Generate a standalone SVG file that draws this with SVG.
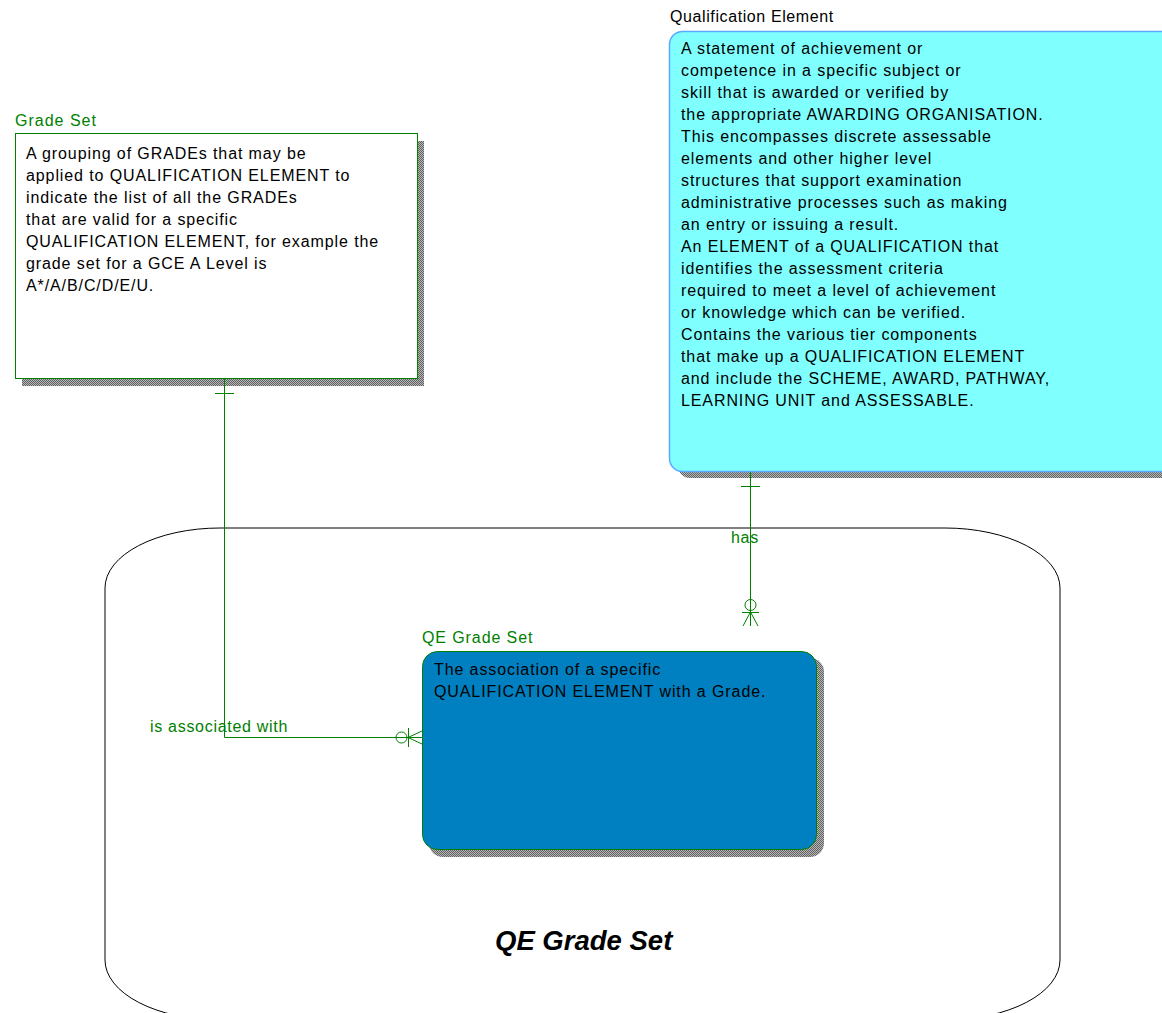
<svg xmlns="http://www.w3.org/2000/svg" width="1162" height="1013" viewBox="0 0 1162 1013">
<defs>
<pattern id="dither" width="2" height="2" patternUnits="userSpaceOnUse">
<rect width="2" height="2" fill="#b8b8b8"/>
<rect width="1" height="1" fill="#606060"/>
<rect x="1" y="1" width="1" height="1" fill="#606060"/>
</pattern>
</defs>
<style>
.t{font-family:"Liberation Sans",Arial,sans-serif;font-size:16px;letter-spacing:0.9px;fill:#000}
.title{font-family:"Liberation Sans",Arial,sans-serif;font-size:16px;letter-spacing:0.6px}
.g{fill:#008000}
.lbl{font-family:"Liberation Sans",Arial,sans-serif;font-size:16px;letter-spacing:0.7px;fill:#008000}
.rel{fill:none;stroke:#008000;stroke-width:1}
.shadow{fill:url(#dither)}
</style>
<rect width="1162" height="1013" fill="#fff"/>

<g id="container">
<rect x="105" y="528" width="955" height="492" rx="115" ry="60" fill="none" stroke="#000" stroke-width="1"/>
<text x="495" y="950" font-family="'Liberation Sans',Arial,sans-serif" font-size="27.5" font-weight="bold" font-style="italic" fill="#000">QE Grade Set</text>
</g>

<g id="grade-set">
<rect class="shadow" x="22" y="141" width="402" height="245"/>
<rect x="15.5" y="133.5" width="402" height="245" fill="#fff" stroke="#008000"/>
<text class="title g" x="15" y="126" style="letter-spacing:1px">Grade Set</text>
<text class="t" x="26" y="159">A grouping of GRADEs that may be</text>
<text class="t" x="26" y="181">applied to QUALIFICATION ELEMENT to</text>
<text class="t" x="26" y="203">indicate the list of all the GRADEs</text>
<text class="t" x="26" y="225">that are valid for a specific</text>
<text class="t" x="26" y="247">QUALIFICATION ELEMENT, for example the</text>
<text class="t" x="26" y="269">grade set for a GCE A Level is</text>
<text class="t" x="26" y="291">A*/A/B/C/D/E/U.</text>
</g>

<g id="qualification-element">
<rect class="shadow" x="678" y="40" width="500" height="438" rx="12"/>
<rect x="669.5" y="31.5" width="510" height="440" rx="13" fill="#80ffff" stroke="#5aaaff" stroke-width="1.5"/>
<text class="title" x="670" y="22" fill="#000">Qualification Element</text>
<text class="t" x="681" y="54">A statement of achievement or</text>
<text class="t" x="681" y="76">competence in a specific subject or</text>
<text class="t" x="681" y="98">skill that is awarded or verified by</text>
<text class="t" x="681" y="120">the appropriate AWARDING ORGANISATION.</text>
<text class="t" x="681" y="142">This encompasses discrete assessable</text>
<text class="t" x="681" y="164">elements and other higher level</text>
<text class="t" x="681" y="186">structures that support examination</text>
<text class="t" x="681" y="208">administrative processes such as making</text>
<text class="t" x="681" y="230">an entry or issuing a result.</text>
<text class="t" x="681" y="252">An ELEMENT of a QUALIFICATION that</text>
<text class="t" x="681" y="274">identifies the assessment criteria</text>
<text class="t" x="681" y="296">required to meet a level of achievement</text>
<text class="t" x="681" y="318">or knowledge which can be verified.</text>
<text class="t" x="681" y="340">Contains the various tier components</text>
<text class="t" x="681" y="362">that make up a QUALIFICATION ELEMENT</text>
<text class="t" x="681" y="384">and include the SCHEME, AWARD, PATHWAY,</text>
<text class="t" x="681" y="406">LEARNING UNIT and ASSESSABLE.</text>
</g>

<g id="qe-grade-set">
<rect class="shadow" x="429" y="658" width="395" height="199" rx="14"/>
<rect x="422.5" y="651.5" width="394" height="198" rx="15" fill="#0080c0" stroke="#008000"/>
<text class="title g" x="422" y="643" style="letter-spacing:0.9px">QE Grade Set</text>
<text class="t" x="434" y="675">The association of a specific</text>
<text class="t" x="434" y="697">QUALIFICATION ELEMENT with a Grade.</text>
</g>

<g id="connectors">
<path class="rel" d="M224.5 379 V737.5 H422"/>
<line class="rel" x1="215" y1="393.5" x2="234" y2="393.5"/>
<circle class="rel" cx="401.5" cy="737.5" r="5.5"/>
<line class="rel" x1="408.5" y1="728" x2="408.5" y2="747"/>
<path class="rel" d="M408 737.5 L422 731 M408 737.5 L422 744"/>
<text class="lbl" x="150" y="732">is associated with</text>
<path class="rel" d="M750.5 472 V626"/>
<line class="rel" x1="741" y1="486.5" x2="760" y2="486.5"/>
<circle class="rel" cx="750.5" cy="605" r="5.5"/>
<line class="rel" x1="742" y1="612.5" x2="759" y2="612.5"/>
<path class="rel" d="M750.5 612 L743 626 M750.5 612 L758 626"/>
<text class="lbl" x="731" y="543">has</text>
</g>
</svg>
